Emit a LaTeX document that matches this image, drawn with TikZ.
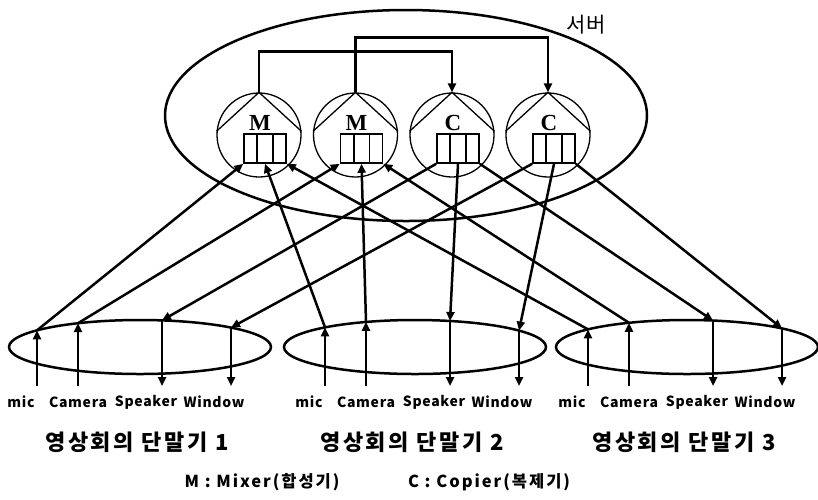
\documentclass[tikz,border=0pt]{standalone}
\usepackage{fontspec}
\setmainfont{Noto Sans CJK KR}
\newfontfamily\unitfont{Liberation Serif}
\usetikzlibrary{shapes.geometric, arrows.meta}

\begin{document}
\begin{tikzpicture}[x=1pt, y=-1pt,
    wire/.style={line width=2.5pt, -{Triangle[length=9pt,width=8pt]}},
    unit/.style={circle, draw, line width=1.3pt, minimum size=84pt, inner sep=0pt},
    buffer/.style={draw, line width=1.6pt, minimum width=42pt, minimum height=29pt, inner sep=0pt},
    term/.style={ellipse, draw, line width=2.5pt, minimum width=262pt, minimum height=54pt, inner sep=0pt},
    port/.style={font=\bfseries\fontsize{14}{14}\selectfont\addfontfeature{LetterSpace=5}, inner sep=0pt},
    legend/.style={font=\bfseries\fontsize{16.5}{16.5}\selectfont\addfontfeature{LetterSpace=12}},
  ]
    \useasboundingbox (0,0) rectangle (818,499);

    % Server
    \node[ellipse, draw, line width=2.5pt, minimum width=482pt, minimum height=211pt, inner sep=0pt] (Server) at (406,115.5) {};
    \node[font=\fontsize{21}{21}\selectfont] (Server-name) at (586,25) {서버};

    % Mixers and copiers
    \foreach \name/\i/\x in {M/1/259, M/2/355.5, C/3/452, C/4/548} {
        \node[unit] (Unit-\i) at (\x,135) {};
        \draw[line width=1.3pt] (Unit-\i.175) -- (Unit-\i.north) -- (Unit-\i.5);
        \node[font=\unitfont\bfseries\fontsize{23}{23}\selectfont, inner sep=0pt] (Unit-name-\i) at (\x+1,123) {\name};
        \node[buffer] (Buffer-\i) at (\x+6,148.5) {};
        \draw[line width=1.6pt] ([xshift=14pt]Buffer-\i.north west) -- ([xshift=14pt]Buffer-\i.south west)
            ([xshift=-14pt]Buffer-\i.north east) -- ([xshift=-14pt]Buffer-\i.south east);
    }
    \draw[wire] (Unit-1.north) -- ++(0,-41) -| (Unit-3.north);
    \draw[wire] (Unit-2.north) -- ++(0,-55) -| (Unit-4.north);

    % Terminals
    \foreach \t/\cx/\mx in {1/140/37, 2/415/325, 3/687/588} {
        \node[term] (Term-\t) at (\cx,347) {};
        \node[font=\bfseries\fontsize{22}{22}\selectfont\addfontfeature{LetterSpace=12}] (Term-name-\t) at (\cx-3,442) {영상회의 단말기 \t};
        \foreach \name/\j/\dx/\lx in {mic/1/0/-16, Camera/2/41/41, Speaker/3/125/109, Window/4/194/177} {
            \coordinate (Port-\t-\j) at ({\mx+\dx}, {347-27*sqrt(1-((\mx+\dx-\cx)/131)^2)});
            \coordinate (End-\t-\j) at ({\mx+\dx}, 386);
            \node[port] (Port-name-\t-\j) at ({\mx+\lx}, 402) {\name};
        }
        \draw[wire] (End-\t-1) -- (Port-\t-1);
        \draw[wire] (End-\t-2) -- (Port-\t-2);
        \draw[wire] (Port-\t-3) -- (End-\t-3);
        \draw[wire] (Port-\t-4) -- (End-\t-4);
    }

    % Arrows
    \foreach \t/\a in {1/south west, 2/south, 3/south east} {
        \draw[wire] (Port-\t-1) -- (Buffer-1.\a);
        \draw[wire] (Port-\t-2) -- (Buffer-2.\a);
        \draw[wire] (Buffer-3.\a) -- (Port-\t-3);
        \draw[wire] (Buffer-4.\a) -- (Port-\t-4);
    }

    % Legend
    \node[legend] (Legend-M) at (262,482) {M : Mixer(합성기)};
    \node[legend] (Legend-C) at (489,482) {C : Copier(복제기)};
\end{tikzpicture}
\end{document}
